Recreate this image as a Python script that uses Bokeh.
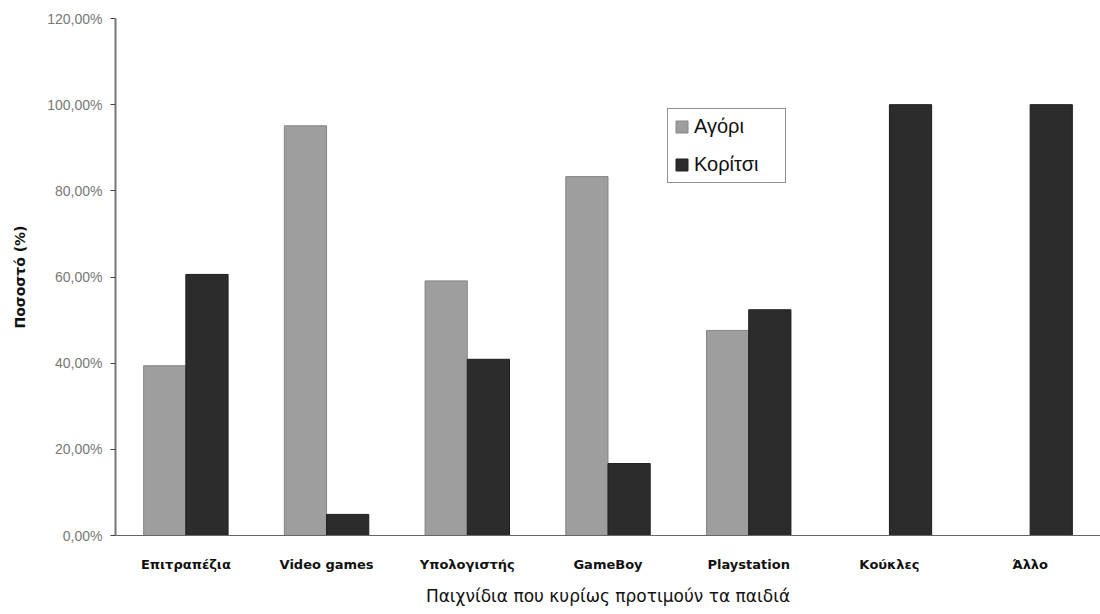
from bokeh.plotting import figure
from bokeh.models import ColumnDataSource, FactorRange, Range1d, FixedTicker, Legend, LegendItem
from bokeh.transform import dodge
from bokeh.embed import file_html
from bokeh.resources import INLINE

categories = ["Επιτραπέζια", "Video games", "Υπολογιστής", "GameBoy", "Playstation", "Κούκλες", "Άλλο"]
boys = [0.394, 0.951, 0.591, 0.833, 0.476, 0.0, 0.0]
girls = [0.606, 0.049, 0.409, 0.167, 0.524, 1.0, 1.0]
y_ticks = [0.0, 0.2, 0.4, 0.6, 0.8, 1.0, 1.2]
y_tick_labels = ["0,00%", "20,00%", "40,00%", "60,00%", "80,00%", "100,00%", "120,00%"]
series_names = ["Αγόρι", "Κορίτσι"]

src = ColumnDataSource(dict(cat=categories, boys=boys, girls=girls))

p = figure(width=1100, height=612, output_backend="svg", toolbar_location=None,
           x_range=FactorRange(*categories, range_padding=0), y_range=Range1d(0, 1.2),
           min_border_left=115, min_border_right=0, min_border_top=18, min_border_bottom=77)
p.background_fill_color = "white"
p.border_fill_color = "white"
p.outline_line_color = None
p.xgrid.grid_line_color = None
p.ygrid.grid_line_color = None

r1 = p.vbar(x=dodge("cat", -0.15, range=p.x_range), top="boys", width=0.3, source=src,
            fill_color="#9e9e9e", line_color="#858585", line_width=1)
r2 = p.vbar(x=dodge("cat", 0.15, range=p.x_range), top="girls", width=0.3, source=src,
            fill_color="#2c2c2c", line_color="#1e1e1e", line_width=1)

font = "Liberation Sans"
wide = "DejaVu Sans"
p.yaxis.ticker = FixedTicker(ticks=y_ticks)
p.yaxis.major_label_overrides = {t: l for t, l in zip(y_ticks, y_tick_labels)}
p.yaxis.major_label_text_font = font
p.yaxis.major_label_text_font_size = "14px"
p.yaxis.major_label_text_color = "#777777"
p.yaxis.major_label_standoff = 8
p.yaxis.axis_line_color = "#777777"
p.yaxis.axis_line_width = 2
p.yaxis.major_tick_line_color = "#444444"
p.yaxis.major_tick_in = 0
p.yaxis.major_tick_out = 5
p.yaxis.minor_tick_line_color = None
p.yaxis.axis_label = "Ποσοστό (%)"
p.yaxis.axis_label_text_font = wide
p.yaxis.axis_label_text_font_style = "bold"
p.yaxis.axis_label_text_font_size = "14px"
p.yaxis.axis_label_text_color = "#111111"
p.yaxis.axis_label_standoff = 16

p.xaxis.major_label_text_font = wide
p.xaxis.major_label_text_font_style = "bold"
p.xaxis.major_label_text_font_size = "13px"
p.xaxis.major_label_text_color = "#111111"
p.xaxis.major_label_standoff = 15
p.xaxis.axis_line_color = "#666666"
p.xaxis.axis_line_width = 1
p.xaxis.major_tick_line_color = None
p.xaxis.minor_tick_line_color = None
p.xaxis.axis_label = "Παιχνίδια που κυρίως προτιμούν τα παιδιά"
p.xaxis.axis_label_text_font = wide
p.xaxis.axis_label_text_font_style = "normal"
p.xaxis.axis_label_text_font_size = "17px"
p.xaxis.axis_label_text_color = "#111111"
p.xaxis.axis_label_standoff = 11

legend = Legend(items=[LegendItem(label=series_names[0], renderers=[r1]),
                       LegendItem(label=series_names[1], renderers=[r2])],
                location=(552, 352))
legend.label_text_font = font
legend.label_text_font_size = "20px"
legend.label_text_color = "#111111"
legend.glyph_width = 15
legend.glyph_height = 15
legend.label_height = 20
legend.label_width = 85
legend.label_standoff = 5
legend.padding = 6
legend.spacing = 15
legend.margin = 0
legend.border_line_color = "#222222"
legend.border_line_width = 1
legend.background_fill_color = "white"
p.add_layout(legend, "center")

open("out.html", "w").write(file_html(p, INLINE))
